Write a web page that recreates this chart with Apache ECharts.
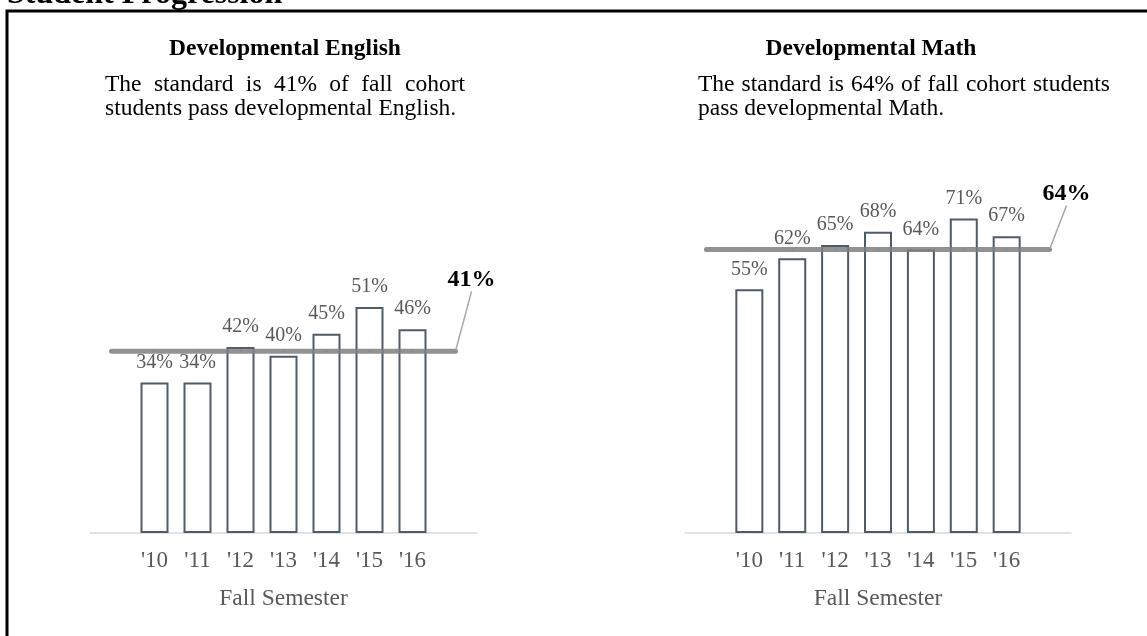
<!DOCTYPE html>
<html>
<head>
<meta charset="utf-8">
<script src="https://cdn.jsdelivr.net/npm/echarts@6/dist/echarts.min.js"></script>
<style>
  html, body { margin: 0; padding: 0; background: #fff; }
  #chart { width: 1147px; height: 636px; }
</style>
</head>
<body>
<div id="chart"></div>
<script>
// data (empty slots at both ends carry the standard line)
const semesters = ['', "'10", "'11", "'12", "'13", "'14", "'15", "'16", ''];
const englishPass = ['-', 34, 34, 42, 40, 45, 51, 46, '-'];
const mathPass = ['-', 55, 62, 65, 68, 64, 71, 67, '-'];
const englishStandard = 41;
const mathStandard = 64;

const serif = '"Liberation Serif", "Times New Roman", serif';
const grey = '#595959';
const bodySize = 23.5;

const ctx = document.createElement('canvas').getContext('2d');

// one text element
function txt(text, x, y, size, opts) {
  opts = opts || {};
  return {
    type: 'text', x: x, y: y, silent: true,
    style: {
      text: text,
      fontFamily: serif,
      fontSize: size,
      fontWeight: opts.bold ? 'bold' : 'normal',
      fill: opts.color || '#000',
      align: opts.align || 'left',
      textAlign: opts.align || 'left',
      verticalAlign: 'middle',
      textVerticalAlign: 'middle'
    }
  };
}

// spread words between left and right like a justified paragraph line
function justified(line, left, right, y) {
  const words = line.split(' ');
  ctx.font = bodySize + 'px ' + serif;
  const widths = words.map(w => ctx.measureText(w).width);
  const total = widths.reduce((a, b) => a + b, 0);
  const gap = (right - left - total) / (words.length - 1);
  let x = left;
  return words.map((w, i) => {
    const el = txt(w, x, y, bodySize);
    x += widths[i] + gap;
    return el;
  });
}

function barSeries(data, idx) {
  return {
    type: 'bar', xAxisIndex: idx, yAxisIndex: idx, data: data,
    barWidth: 28, silent: true, z: 2,
    itemStyle: { color: '#fff', borderColor: '#4f5c68', borderWidth: 2 },
    label: {
      show: true, position: 'top', distance: 10, formatter: '{c}%',
      fontFamily: serif, fontSize: 20, color: grey
    }
  };
}

function standardSeries(value, idx, dx, dy) {
  const data = semesters.map((s, i) => i === semesters.length - 1 ? { value: value, label: { show: true } } : value);
  return {
    type: 'line', xAxisIndex: idx, yAxisIndex: idx, data: data,
    symbol: 'circle', symbolSize: 2, silent: true, z: 5,
    lineStyle: { color: '#7f7f7f', width: 5, opacity: 0.85, cap: 'round' },
    itemStyle: { color: '#8a8a8a' },
    label: {
      show: false, position: 'top', formatter: value + '%',
      fontFamily: serif, fontWeight: 'bold', fontSize: 24, color: '#000'
    },
    labelLayout: { dx: dx, dy: dy },
    labelLine: { show: true, lineStyle: { color: '#a6a6a6', width: 1.5 } }
  };
}

const chart = echarts.init(document.getElementById('chart'));

chart.setOption({
  animation: false,
  backgroundColor: '#fff',
  grid: [
    { left: 90, width: 387, top: 90, bottom: 103 },
    { left: 685, width: 386, top: 90, bottom: 103 }
  ],
  xAxis: [0, 1].map(i => ({
    type: 'category', gridIndex: i, data: semesters,
    axisTick: { show: false },
    axisLine: { lineStyle: { color: '#d9d9d9', width: 1.5 } },
    axisLabel: { fontFamily: serif, fontSize: 23, color: grey, margin: 16, interval: 0 },
    name: 'Fall Semester', nameLocation: 'middle', nameGap: 54,
    nameTextStyle: { fontFamily: serif, fontSize: bodySize, color: grey }
  })),
  yAxis: [0, 1].map(i => ({ type: 'value', gridIndex: i, min: 0, max: 100, show: false })),
  series: [
    barSeries(englishPass, 0),
    standardSeries(englishStandard, 0, 16, -54),
    barSeries(mathPass, 1),
    standardSeries(mathStandard, 1, 17, -38)
  ],
  graphic: [
    { type: 'rect', silent: true, shape: { x: 7, y: 11, width: 1300, height: 800 },
      style: { fill: 'none', stroke: '#000', lineWidth: 3 } },
    txt('Student Progression', 7, -5, 32, { bold: true }),
    txt('Developmental English', 285, 48.5, bodySize, { bold: true, align: 'center' }),
    txt('Developmental Math', 871, 48.5, bodySize, { bold: true, align: 'center' }),
    ...justified('The standard is 41% of fall cohort', 105, 465, 85),
    txt('students pass developmental English.', 105, 109, bodySize),
    ...justified('The standard is 64% of fall cohort students', 698, 1110, 85),
    txt('pass developmental Math.', 698, 109, bodySize)
  ]
});
</script>
</body>
</html>
